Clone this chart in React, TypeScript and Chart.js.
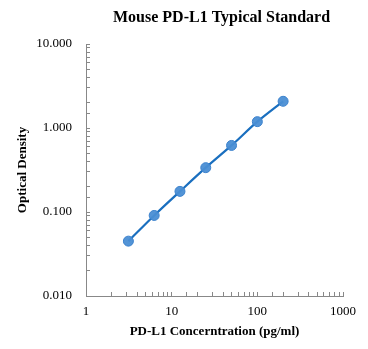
import React, { useEffect, useRef } from "react";
import { Chart, registerables } from "chart.js";

Chart.register(...registerables);

const TITLE = "Mouse PD-L1 Typical Standard";
const X_TITLE = "PD-L1 Concerntration (pg/ml)";
const Y_TITLE = "Optical Density";

const concentrations = [3.125, 6.25, 12.5, 25, 50, 100, 200];
const opticalDensity = [0.045, 0.091, 0.176, 0.337, 0.62, 1.19, 2.08];

const X_MIN = 1;
const X_MAX = 1000;
const Y_MIN = 0.01;
const Y_MAX = 10;

const FONT = '"Liberation Serif", "Times New Roman", serif';

const isPow10 = (v: number) => {
  const l = Math.log10(v);
  return Math.abs(l - Math.round(l)) < 1e-6;
};

const titlePlugin = {
  id: "customTitle",
  afterDraw(chart: any) {
    const { ctx, chartArea } = chart;
    ctx.save();
    ctx.font = `bold 16px ${FONT}`;
    ctx.fillStyle = "#000";
    ctx.textAlign = "center";
    ctx.textBaseline = "middle";
    ctx.fillText(TITLE, (chartArea.left + chartArea.right) / 2 + 7, 18);
    ctx.restore();
  },
};

export default function App() {
  const ref = useRef<HTMLCanvasElement>(null);

  useEffect(() => {
    if (!ref.current) return;
    const chart = new Chart(ref.current, {
      type: "line",
      data: {
        datasets: [
          {
            data: concentrations.map((x, i) => ({ x, y: opticalDensity[i] })),
            borderColor: "#1a6fbf",
            borderWidth: 2.2,
            backgroundColor: "rgba(70,140,212,0.9)",
            pointBackgroundColor: "rgba(74,142,212,0.95)",
            pointBorderColor: "rgba(60,130,205,1)",
            pointBorderWidth: 1,
            pointRadius: 5,
            tension: 0.3,
            fill: false,
          },
        ],
      },
      options: {
        responsive: false,
        animation: false,
        devicePixelRatio: 1,
        layout: { padding: { top: 44, right: 25, left: 0, bottom: 0 } },
        plugins: {
          legend: { display: false },
          title: { display: false },
          tooltip: { enabled: false },
        },
        scales: {
          x: {
            type: "logarithmic",
            min: X_MIN,
            max: X_MAX,
            afterFit: (s: any) => {
              s.height = 53;
            },
            border: { color: "#888", width: 1 },
            grid: {
              drawOnChartArea: false,
              drawTicks: true,
              tickLength: -4,
              color: "#888",
            },
            ticks: {
              autoSkip: false,
              maxRotation: 0,
              padding: 12,
              color: "#000",
              font: { family: FONT, size: 13 },
              callback: (v: any) => (isPow10(Number(v)) ? String(Math.round(Number(v))) : ""),
            },
            title: {
              display: true,
              text: X_TITLE,
              color: "#000",
              font: { family: FONT, size: 13, weight: "bold" },
              padding: { top: 0, bottom: 10 },
            },
          },
          y: {
            type: "logarithmic",
            min: Y_MIN,
            max: Y_MAX,
            afterFit: (s: any) => {
              s.width = 86;
            },
            border: { color: "#888", width: 1 },
            grid: {
              drawOnChartArea: false,
              drawTicks: true,
              tickLength: -4,
              color: "#888",
            },
            ticks: {
              autoSkip: false,
              padding: 18,
              color: "#000",
              font: { family: FONT, size: 13 },
              callback: (v: any) => (isPow10(Number(v)) ? Number(v).toFixed(3) : ""),
            },
            title: {
              display: true,
              text: Y_TITLE,
              color: "#000",
              font: { family: FONT, size: 13, weight: "bold" },
              padding: { top: 15, bottom: 15 },
            },
          },
        },
      },
      plugins: [titlePlugin],
    });
    return () => chart.destroy();
  }, []);

  return (
    <canvas
      ref={ref}
      width={368}
      height={349}
      style={{ position: "absolute", left: 0, top: 0, display: "block", background: "#fff" }}
    />
  );
}
